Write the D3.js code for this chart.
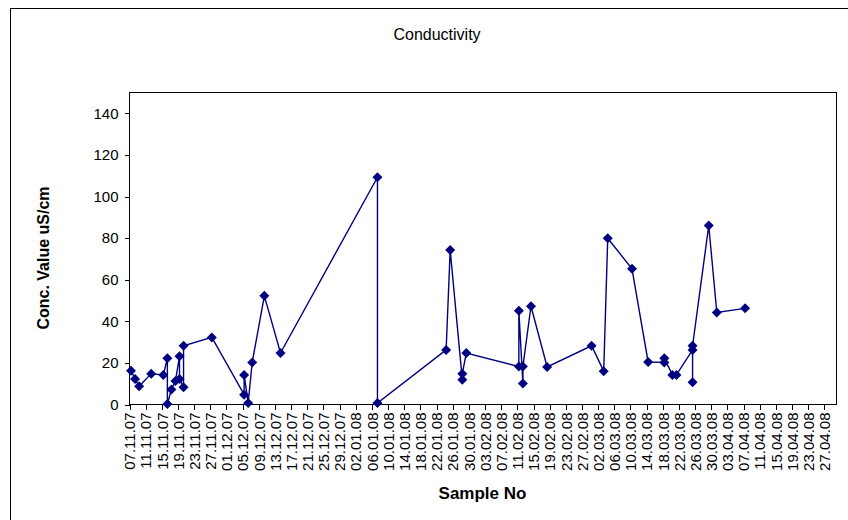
<!DOCTYPE html>
<html>
<head>
<meta charset="utf-8">
<script src="https://cdn.jsdelivr.net/npm/d3@7"></script>
<style>
  body { margin: 0; background: #fff; }
  svg { display: block; font-family: "Liberation Sans", Arial, sans-serif; }
  .axis path, .axis line { stroke: #000; shape-rendering: crispEdges; }
  .axis text { fill: #000; }
</style>
</head>
<body>
<div id="chart"></div>
<script>
// sample dates (dd.mm.yy) and conductivity readings, in sample order
var sampleDates = [
  '07.11.07', '08.11.07', '09.11.07', '12.11.07', '15.11.07', '16.11.07', '16.11.07',
  '17.11.07', '18.11.07', '19.11.07', '19.11.07', '20.11.07', '20.11.07', '27.11.07',
  '05.12.07', '05.12.07', '06.12.07', '07.12.07', '10.12.07', '14.12.07',
  '07.01.08', '07.01.08', '24.01.08', '25.01.08', '28.01.08', '28.01.08', '29.01.08',
  '11.02.08', '11.02.08', '12.02.08', '12.02.08', '14.02.08', '18.02.08', '29.02.08',
  '03.03.08', '04.03.08', '10.03.08', '14.03.08', '18.03.08', '18.03.08', '20.03.08',
  '21.03.08', '25.03.08', '25.03.08', '25.03.08', '29.03.08', '31.03.08', '07.04.08'
];
var conductivity = [
  16, 12, 8.5, 14.6, 14, 22, 0,
  7, 11, 23, 12, 8, 28, 32,
  4.5, 14, 0.5, 20, 52, 24.5,
  109, 0.5, 26, 74, 11.7, 14.6, 24.5,
  18, 44.8, 9.8, 18, 47, 17.8, 28,
  15.8, 79.7, 65, 20.2, 20, 22, 14,
  14, 26, 10.4, 28, 85.8, 44, 46
];
var xRange = ['07.11.07', '30.04.08'];
var yTicks = [0, 20, 40, 60, 80, 100, 120, 140];
var yMax = 150;

var title = 'Conductivity',
    xTitle = 'Sample No',
    yTitle = 'Conc. Value uS/cm';

var width = 848, height = 520;
var margin = { left: 129, top: 92, right: 12, bottom: 116 };
var chartWidth = width - margin.left - margin.right;
var chartHeight = height - margin.top - margin.bottom;

var parse = d3.timeParse('%d.%m.%y');
var fmt = d3.timeFormat('%d.%m.%y');

var data = sampleDates.map(function(d, i) {
  return { date: parse(d), value: conductivity[i] };
});

var svg = d3.select('#chart').append('svg')
  .attr('width', width)
  .attr('height', height);

// chart area frame
svg.append('rect')
  .attr('x', 10.5).attr('y', 8.5)
  .attr('width', width).attr('height', height)
  .attr('fill', '#fff').attr('stroke', '#000');

svg.append('text')
  .attr('x', 437).attr('y', 40)
  .attr('text-anchor', 'middle')
  .style('font-size', '16px')
  .text(title);

var g = svg.append('g')
  .attr('transform', 'translate(' + margin.left + ',' + margin.top + ')');

var xScale = d3.scaleTime()
  .domain(xRange.map(parse))
  .range([0, chartWidth]);
var yScale = d3.scaleLinear()
  .domain([0, yMax])
  .range([chartHeight, 0]);

// points sit in the middle of their day, ticks at day start
var px = function(d) { return xScale(d3.timeHour.offset(d.date, 12)); };
var py = function(d) { return yScale(d.value); };

g.append('rect')
  .attr('x', 0.5).attr('y', 0.5)
  .attr('width', chartWidth).attr('height', chartHeight)
  .attr('fill', 'none').attr('stroke', '#000')
  .attr('shape-rendering', 'crispEdges');

var xTicks = d3.timeDay.range(parse(xRange[0]), parse(xRange[1]), 4);

var xAxis = d3.axisBottom(xScale)
  .tickValues(xTicks)
  .tickFormat(fmt)
  .tickSize(5)
  .tickSizeOuter(0);
var yAxis = d3.axisLeft(yScale)
  .tickValues(yTicks)
  .tickSize(5)
  .tickPadding(6)
  .tickSizeOuter(0);

g.append('g')
  .attr('class', 'axis x')
  .attr('transform', 'translate(0.5,' + (chartHeight + 0.5) + ')')
  .call(xAxis)
  .selectAll('text')
  .style('font-size', '15px')
  .style('text-anchor', 'end')
  .attr('transform', 'rotate(-90)')
  .attr('x', -8)
  .attr('y', 0)
  .attr('dy', '0.35em');

g.append('g')
  .attr('class', 'axis y')
  .attr('transform', 'translate(0.5,0.5)')
  .call(yAxis)
  .selectAll('text')
  .style('font-size', '15px');

g.selectAll('.axis .domain').remove();

var line = d3.line().x(px).y(py);

g.append('path')
  .datum(data)
  .attr('d', line)
  .attr('fill', 'none')
  .attr('stroke', '#000080')
  .attr('stroke-width', 1.4);

var diamond = d3.symbol(d3.symbolSquare, 50);
g.selectAll('.pt').data(data).enter().append('path')
  .attr('class', 'pt')
  .attr('d', diamond)
  .attr('transform', function(d) { return 'translate(' + px(d) + ',' + py(d) + ') rotate(45)'; })
  .attr('fill', '#000080');

svg.append('text')
  .attr('x', margin.left + chartWidth / 2)
  .attr('y', 499)
  .attr('text-anchor', 'middle')
  .style('font-size', '17px')
  .style('font-weight', 'bold')
  .text(xTitle);

svg.append('text')
  .attr('transform', 'translate(49,' + (margin.top + chartHeight / 2 + 10) + ') rotate(-90)')
  .attr('text-anchor', 'middle')
  .style('font-size', '16px')
  .style('font-weight', 'bold')
  .text(yTitle);
</script>
</body>
</html>
